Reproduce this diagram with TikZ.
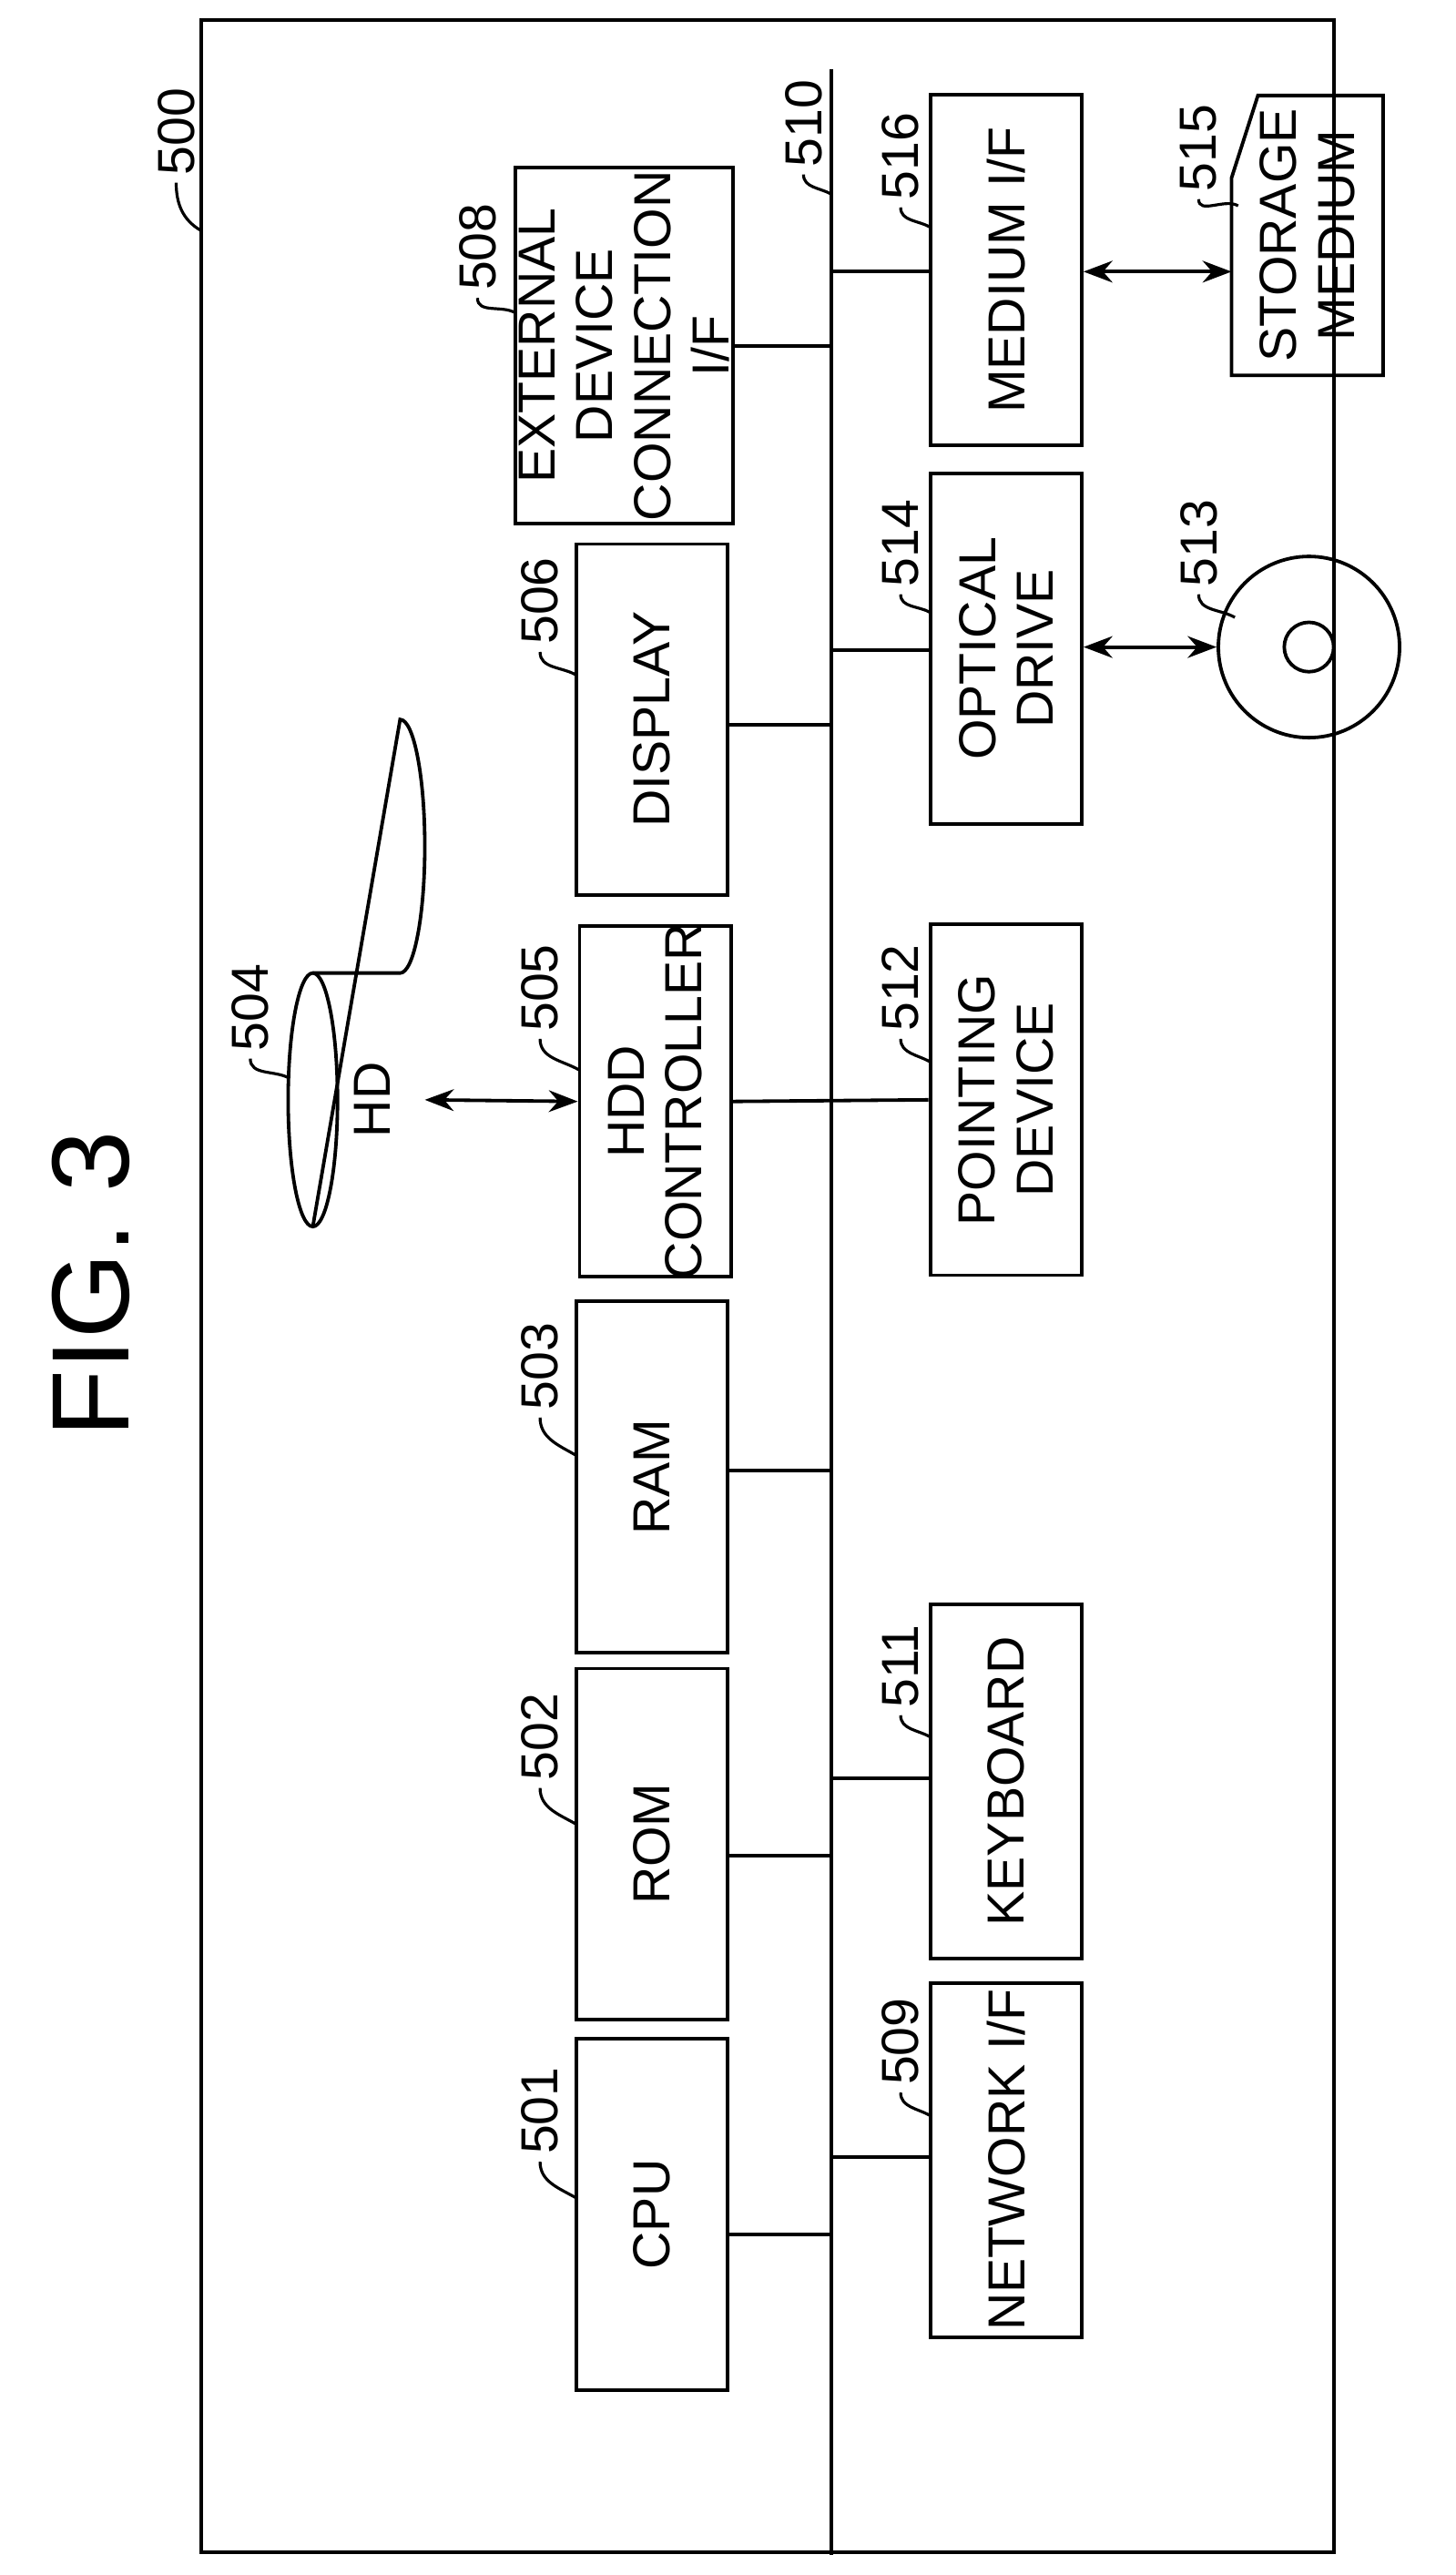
\documentclass[tikz,border=0pt]{standalone}
\usepackage{fontspec}
\setmainfont{Liberation Sans}
\usetikzlibrary{arrows.meta}
\begin{document}
\begin{tikzpicture}[x=0.01cm,y=-0.01cm,line width=0.6pt,
  box/.style={draw,minimum width=0.92cm,minimum height=2.13cm},
  txt/.style={rotate=90,align=center,font=\fontsize{9}{10}\selectfont},
  lbl/.style={rotate=90,font=\fontsize{9}{10}\selectfont,inner sep=1pt},
  link/.style={{Stealth[length=5pt]}-{Stealth[length=5pt]}}]
\useasboundingbox (0,0) rectangle (884,1564);
\node[rotate=90,font=\fontsize{19}{20}\selectfont] (fig) at (55,780) {FIG. 3};
% frame and bus
\draw (122,12) rectangle (810,1550);
\coordinate (busT) at (505,42);
\coordinate (busB) at (505,1552);
\draw (busT) -- (busB);
% left column
\node[box,label={[txt]center:CPU}] (cpu) at (396,1345) {};
\node[box,label={[txt]center:ROM}] (rom) at (396,1120) {};
\node[box,label={[txt]center:RAM}] (ram) at (396,897) {};
\node[box,label={[txt]center:HDD\\CONTROLLER}] (hddc) at (398,669) {};
\node[box,label={[txt]center:DISPLAY}] (disp) at (396,437) {};
\node[box,minimum width=1.32cm,minimum height=2.16cm,label={[txt]center:EXTERNAL\\DEVICE\\CONNECTION\\I/F}] (extif) at (379,210) {};
% right column
\node[box,minimum height=2.15cm,label={[txt]center:NETWORK I/F}] (netif) at (611,1312) {};
\node[box,minimum height=2.15cm,label={[txt]center:KEYBOARD}] (kbd) at (611,1082) {};
\node[box,label={[txt]center:POINTING\\DEVICE}] (pnt) at (611,668) {};
\node[box,label={[txt]center:OPTICAL\\DRIVE}] (opt) at (611,394) {};
\node[box,label={[txt]center:MEDIUM I/F}] (medif) at (611,164) {};
% bus links
\draw (cpu.east |- 0,1357) -- (505,1357);
\draw (rom.east |- 0,1127) -- (505,1127);
\draw (ram.east |- 0,893) -- (505,893);
\draw (hddc.east) -- (pnt.west);
\draw (disp.east |- 0,440) -- (505,440);
\draw (extif.east) -- (505,210);
\draw (505,1310) -- (netif.west |- 0,1310);
\draw (505,1080) -- (kbd.west |- 0,1080);
\draw (505,395) -- (opt.west |- 0,395);
\draw (505,165) -- (medif.west |- 0,165);
% hard disk
\draw (190,668) ellipse (15 and 77);
\draw (190,591) -- (243,591) arc[start angle=-90,end angle=90,x radius=15,y radius=-77] -- (190,745);
\node[txt] (hd) at (226,668) {HD};
\coordinate (hdR) at (258,668);
\draw[link] (hdR) -- (hddc.west);
% disc
\node[draw,circle,minimum size=1.1cm,inner sep=0pt] (disc) at (795,393) {};
\node[draw,circle,minimum size=0.3cm,inner sep=0pt] (hole) at (795,393) {};
\draw[link] (opt.east |- 0,393) -- (disc.west);
% storage medium
\draw (764,58) -- (840,58) -- (840,228) -- (748,228) -- (748,108) -- cycle;
\node[txt] (stm) at (794,143) {STORAGE\\MEDIUM};
\coordinate (stmL) at (748,165);
\draw[link] (medif.east |- 0,165) -- (stmL);
% reference numbers
\foreach \n/\x/\y/\tx/\ty in {500/107/80/122/140, 501/328/1282/350/1335, 502/328/1055/350/1108,
  503/328/830/350/884, 504/152/612/176/655, 505/328/600/352/650, 506/328/365/350/410,
  508/290/150/313/190, 510/488/75/505/118, 509/547/1240/565/1285, 511/547/1012/565/1055,
  512/547/600/565/645, 514/547/330/565/372, 516/547/95/565/138, 513/728/330/750/375,
  515/728/90/752/125}{
  \node[lbl] (l\n) at (\x,\y) {\n};
  \draw[line width=0.5pt] (l\n.west) to[out=-90,in=150] (\tx,\ty);
}
\end{tikzpicture}
\end{document}
